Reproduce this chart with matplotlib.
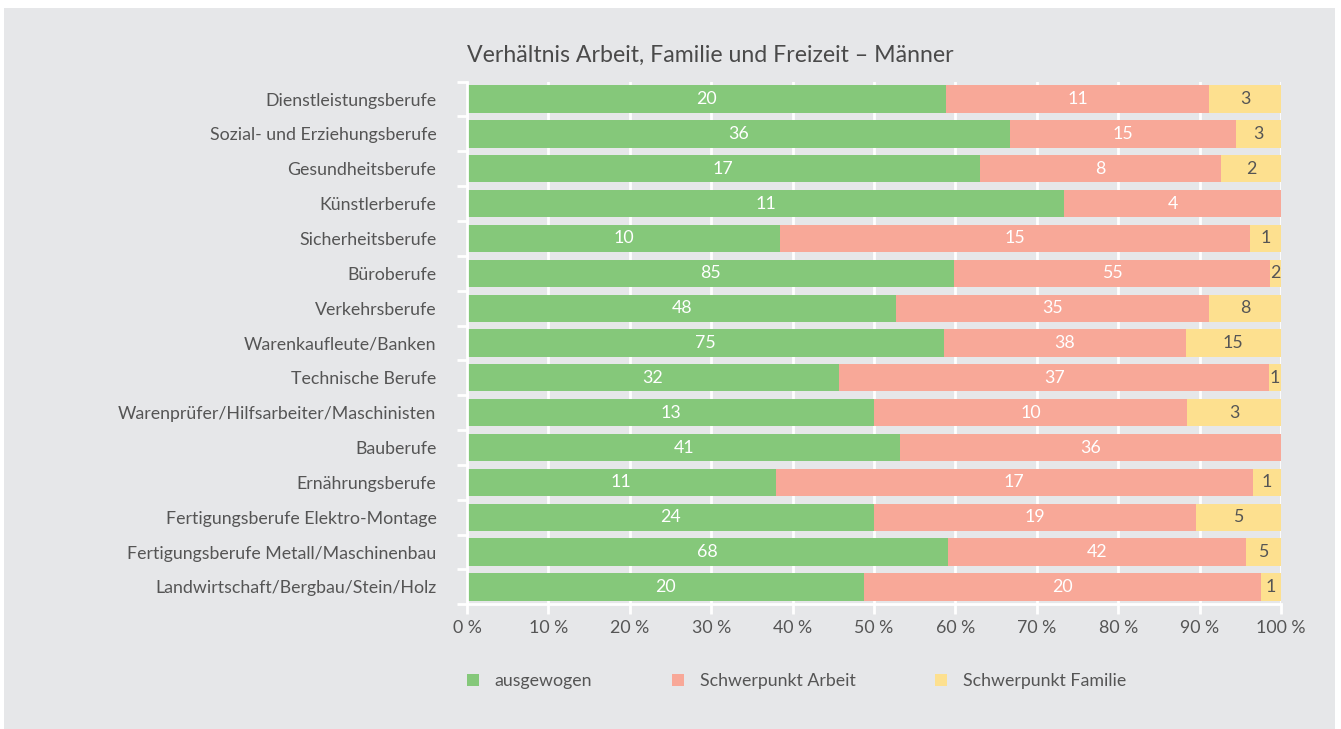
import matplotlib.pyplot as plt
from matplotlib.patches import Rectangle
import numpy as np

categories = [
    "Dienstleistungsberufe",
    "Sozial- und Erziehungsberufe",
    "Gesundheitsberufe",
    "Künstlerberufe",
    "Sicherheitsberufe",
    "Büroberufe",
    "Verkehrsberufe",
    "Warenkaufleute/Banken",
    "Technische Berufe",
    "Warenprüfer/Hilfsarbeiter/Maschinisten",
    "Bauberufe",
    "Ernährungsberufe",
    "Fertigungsberufe Elektro-Montage",
    "Fertigungsberufe Metall/Maschinenbau",
    "Landwirtschaft/Bergbau/Stein/Holz",
]
ausgewogen = [20, 36, 17, 11, 10, 85, 48, 75, 32, 13, 41, 11, 24, 68, 20]
arbeit = [11, 15, 8, 4, 15, 55, 35, 38, 37, 10, 36, 17, 19, 42, 20]
familie = [3, 3, 2, 0, 1, 2, 8, 15, 1, 3, 0, 1, 5, 5, 1]
series_names = ["ausgewogen", "Schwerpunkt Arbeit", "Schwerpunkt Familie"]
title = "Verhältnis Arbeit, Familie und Freizeit – Männer"

colors = ["#85c87a", "#f8a898", "#fde08f"]
label_colors = ["white", "white", "#555555"]
bg = "#e6e7e9"
text_col = "#555555"
fs = 12.8

plt.rcParams["font.family"] = ["Lato", "DejaVu Sans"]

counts = np.array([ausgewogen, arbeit, familie], dtype=float)
shares = counts / counts.sum(axis=0) * 100

fig = plt.figure(figsize=(13.41, 7.29), dpi=100, facecolor="white")
fig.patches.append(Rectangle((4 / 1341, 0), 1331 / 1341, 721 / 729,
                             transform=fig.transFigure, facecolor=bg,
                             edgecolor="none", zorder=-10))
ax = fig.add_axes([467 / 1341, 0.171, 814 / 1341, 0.717])
ax.set_facecolor(bg)

y = np.arange(len(categories))
left = np.zeros(len(categories))
for i in range(3):
    ax.barh(y, shares[i], left=left, height=0.78, color=colors[i],
            label=series_names[i], zorder=3)
    for j in range(len(categories)):
        if counts[i, j] > 0:
            ax.text(left[j] + shares[i, j] / 2, y[j], f"{int(counts[i, j])}",
                    ha="center", va="center", color=label_colors[i],
                    fontsize=fs, zorder=4)
    left += shares[i]

ax.set_xlim(0, 100)
ax.set_ylim(len(categories) - 0.5, -0.5)

ax.set_xticks(np.arange(0, 101, 10))
ax.set_xticklabels([f"{v} %" for v in range(0, 101, 10)])
ax.set_yticks(y)
ax.set_yticklabels(categories)
ax.set_yticks(np.arange(-0.5, len(categories), 1), minor=True)

ax.grid(axis="x", color="white", linewidth=2, zorder=1)
for s in ["top", "right"]:
    ax.spines[s].set_visible(False)
for s in ["left", "bottom"]:
    ax.spines[s].set_color("white")
    ax.spines[s].set_linewidth(2)
    ax.spines[s].set_zorder(5)

ax.tick_params(axis="x", colors="white", labelcolor=text_col, labelsize=fs,
               length=7, width=2, pad=4)
ax.tick_params(axis="y", which="major", length=0, labelcolor=text_col,
               labelsize=fs, pad=22)
ax.tick_params(axis="y", which="minor", colors="white", length=7, width=2)

fig.text(467 / 1341, 1 - 55 / 729, title, fontsize=16.7, color="#4a4a4a",
         va="center", ha="left")

leg = ax.legend(loc="upper left", bbox_to_anchor=(0.0, -0.131), ncol=3,
                frameon=False, fontsize=fs, handlelength=0.65,
                handleheight=0.65, handletextpad=0.9, columnspacing=4.5,
                borderpad=0, borderaxespad=0, labelcolor=text_col)

fig.savefig("out.png", dpi=100, facecolor="white")
